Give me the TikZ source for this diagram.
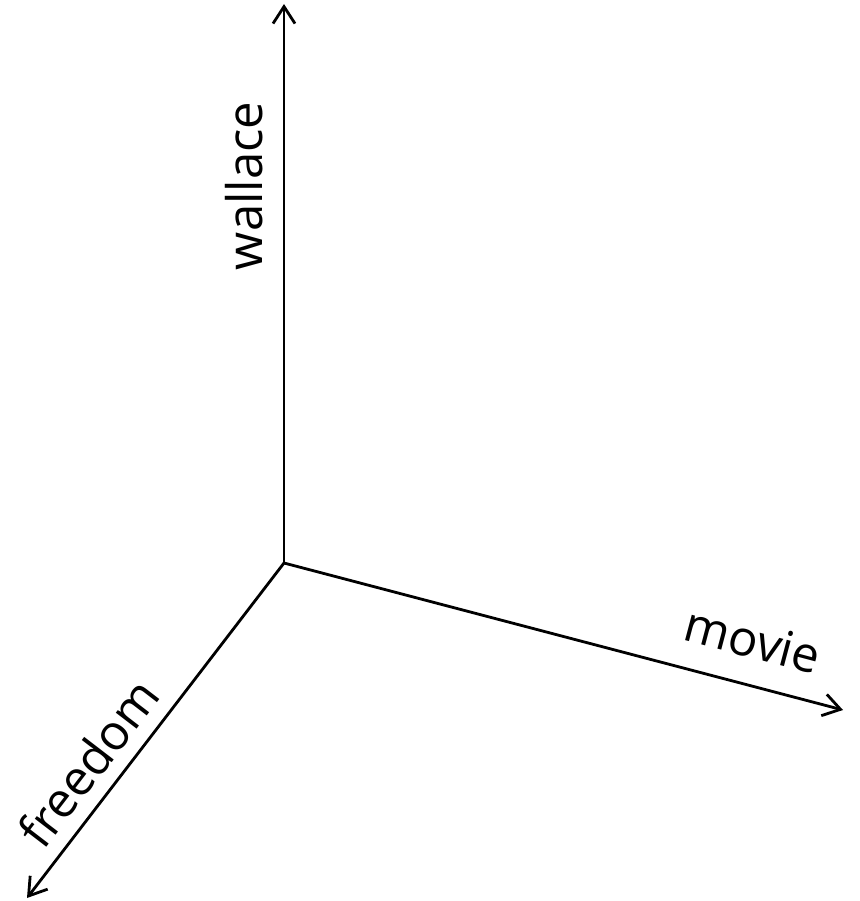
\documentclass[tikz,border=0pt]{standalone}
\usepackage{fontspec}
\setmainfont{Open Sans}
\usetikzlibrary{arrows.meta}
\begin{document}
\begin{tikzpicture}[x=1pt,y=-1pt,
  axis/.style={line width=2.8pt,-{Straight Barb[length=17pt,width=22pt,line width=2.8pt]}},
  lbl/.style={inner sep=0pt,font=\fontsize{49}{49}\selectfont}]
\useasboundingbox (0,0) rectangle (859,901);
\coordinate (O) at (284,563);
\coordinate (W) at (284,4);
\coordinate (M) at (843,710);
\coordinate (F) at (27,898);
\draw[axis] (O) -- (W);
\draw[axis] (O) -- (M);
\draw[axis] (O) -- (F);
\node[lbl,rotate=90] (wl) at (244,186) {wallace};
\node[lbl,rotate=-14.8] (ml) at (753,640) {movie};
\node[lbl,rotate=52.5] (fl) at (88,763) {freedom};
\end{tikzpicture}
\end{document}
